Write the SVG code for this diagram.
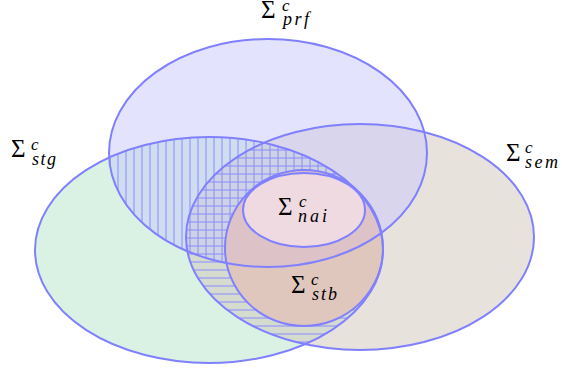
<svg xmlns="http://www.w3.org/2000/svg" xmlns:xlink="http://www.w3.org/1999/xlink" width="562" height="371" viewBox="0 0 562 371">
<style>
.outline{fill:none;stroke:#8080ff;stroke-width:2}
</style>
<defs>
<ellipse id="e-prf" cx="268" cy="153" rx="159" ry="114"/>
<ellipse id="e-stg" cx="209" cy="250" rx="174" ry="113"/>
<ellipse id="e-sem" cx="360" cy="237" rx="174" ry="113"/>
<ellipse id="e-stb" cx="304" cy="248" rx="79" ry="78"/>
<ellipse id="e-nai" cx="304" cy="210" rx="61" ry="37"/>
<clipPath id="c-prf"><use xlink:href="#e-prf"/></clipPath>
<clipPath id="c-stg"><use xlink:href="#e-stg"/></clipPath>
<clipPath id="c-sem"><use xlink:href="#e-sem"/></clipPath>
<mask id="m-not-sem" maskUnits="userSpaceOnUse" x="0" y="0" width="562" height="371">
<rect width="562" height="371" fill="#fff"/><use xlink:href="#e-sem" fill="#000"/></mask>
<mask id="m-not-stb" maskUnits="userSpaceOnUse" x="0" y="0" width="562" height="371">
<rect width="562" height="371" fill="#fff"/><use xlink:href="#e-stb" fill="#000"/></mask>
<mask id="m-not-prf-stb" maskUnits="userSpaceOnUse" x="0" y="0" width="562" height="371">
<rect width="562" height="371" fill="#fff"/><use xlink:href="#e-prf" fill="#000"/><use xlink:href="#e-stb" fill="#000"/></mask>
<pattern id="p-v" width="8" height="8" patternUnits="userSpaceOnUse">
<line x1="6" y1="0" x2="6" y2="8" stroke="#8a8aff" stroke-width="1"/></pattern>
<pattern id="p-h" width="8" height="8" patternUnits="userSpaceOnUse">
<line x1="0" y1="6" x2="8" y2="6" stroke="#8a8aff" stroke-width="1"/></pattern>
<pattern id="p-g" width="8" height="8" patternUnits="userSpaceOnUse">
<line x1="6" y1="0" x2="6" y2="8" stroke="#8a8aff" stroke-width="1"/>
<line x1="0" y1="6" x2="8" y2="6" stroke="#8a8aff" stroke-width="1"/></pattern>
</defs>

<g id="stg">
<use xlink:href="#e-stg" fill="#d9f2e4"/>
</g>
<g id="sem">
<use xlink:href="#e-sem" fill="#d1c5b9" fill-opacity="0.5"/>
</g>
<g id="prf">
<use xlink:href="#e-prf" fill="#c7c7fb" fill-opacity="0.5"/>
</g>

<g id="hatching">
<g clip-path="url(#c-prf)"><g clip-path="url(#c-stg)">
<rect width="562" height="371" fill="url(#p-v)" mask="url(#m-not-sem)"/></g></g>
<g clip-path="url(#c-prf)"><g clip-path="url(#c-stg)"><g clip-path="url(#c-sem)">
<rect width="562" height="371" fill="url(#p-g)" mask="url(#m-not-stb)"/></g></g></g>
<g clip-path="url(#c-stg)"><g clip-path="url(#c-sem)">
<rect width="562" height="371" fill="url(#p-h)" mask="url(#m-not-prf-stb)"/></g></g>
</g>

<g id="stb">
<use xlink:href="#e-stb" fill="#eab6ae" fill-opacity="0.55"/>
</g>
<g id="nai">
<use xlink:href="#e-nai" fill="#f2dee5" fill-opacity="0.85"/>
</g>

<g id="outlines">
<use xlink:href="#e-stg" class="outline"/>
<use xlink:href="#e-sem" class="outline"/>
<use xlink:href="#e-prf" class="outline"/>
<use xlink:href="#e-stb" class="outline"/>
<use xlink:href="#e-nai" class="outline"/>
</g>

<g id="labels" font-family="Liberation Serif" fill="#000">
<g font-size="25">
<text x="11" y="157">Σ</text>
<text x="506" y="161">Σ</text>
<text x="261" y="18">Σ</text>
<text x="291" y="293">Σ</text>
<text x="278" y="215">Σ</text>
</g>
<g font-style="italic" font-size="17">
<text x="31" y="150">c</text>
<text x="525" y="153">c</text>
<text x="282" y="11">c</text>
<text x="311" y="285">c</text>
<text x="299" y="207">c</text>
</g>
<g font-style="italic" font-size="18">
<text x="32" y="165" letter-spacing="1.5">stg</text>
<text x="525" y="168" letter-spacing="2.5">sem</text>
<text x="283" y="25" letter-spacing="2.5">prf</text>
<text x="312" y="300" letter-spacing="2">stb</text>
<text x="298" y="222" letter-spacing="3">nai</text>
</g>
</g>
</svg>
